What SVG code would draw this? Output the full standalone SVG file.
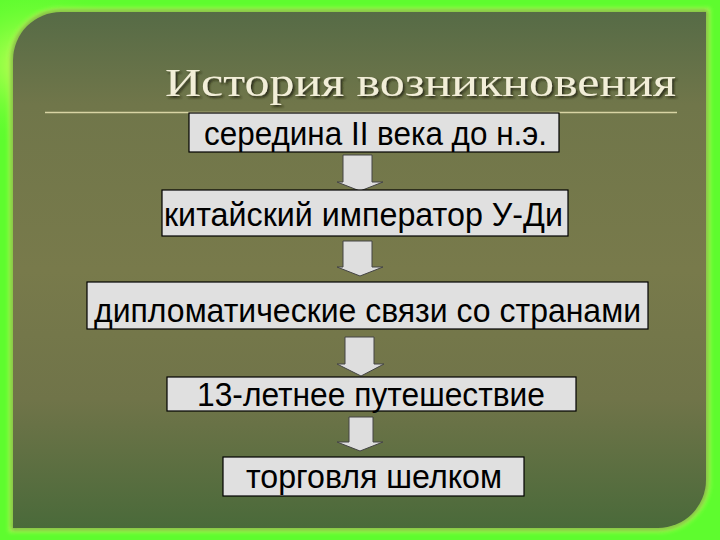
<svg xmlns="http://www.w3.org/2000/svg" width="720" height="540" viewBox="0 0 720 540">
  <defs>
    <linearGradient id="panel" x1="0" y1="0" x2="0" y2="1">
      <stop offset="0" stop-color="#566b46"/>
      <stop offset="0.18" stop-color="#70764a"/>
      <stop offset="0.5" stop-color="#787a4b"/>
      <stop offset="0.75" stop-color="#707449"/>
      <stop offset="1" stop-color="#4a6a3a"/>
    </linearGradient>
    <radialGradient id="glowTL" cx="0.05" cy="0.12" r="0.15">
      <stop offset="0" stop-color="#d8ff60"/>
      <stop offset="1" stop-color="#60ff30" stop-opacity="0"/>
    </radialGradient>
    <filter id="tshadow" x="-5%" y="-30%" width="110%" height="160%">
      <feDropShadow dx="2" dy="2" stdDeviation="1" flood-color="#20200f" flood-opacity="0.8"/>
    </filter>
    <filter id="blur2" x="-5%" y="-5%" width="110%" height="110%">
      <feGaussianBlur stdDeviation="2"/>
    </filter>
    <path id="panelShape" d="M13,60 A48,48 0 0 1 61,12 H706 V480 A48,48 0 0 1 658,528 H13 Z"/>
  </defs>
  <style>
    .box { fill: #e0e0e0; stroke: #000000; stroke-width: 1.2; }
    .lbl { font-family: "Liberation Sans", Arial, sans-serif; font-size: 33px; fill: #000000; }
    .arrow { fill: #dedede; stroke: #444444; stroke-width: 1; }
    .title { font-family: "Liberation Serif", "DejaVu Serif", serif; font-size: 40px; }
  </style>

  <!-- background -->
  <rect x="0" y="0" width="720" height="540" fill="#5efc2e"/>
  <rect x="0" y="0" width="720" height="540" fill="url(#glowTL)"/>
  <use href="#panelShape" fill="none" stroke="#b8ff5a" stroke-width="8" filter="url(#blur2)"/>
  <use href="#panelShape" fill="none" stroke="#2f4a22" stroke-width="3" opacity="0.6" filter="url(#blur2)"/>
  <use href="#panelShape" fill="url(#panel)"/>

  <!-- title -->
  <g id="title">
    <text class="title" x="165" y="96" fill="#f2eed8" filter="url(#tshadow)" textLength="511" lengthAdjust="spacingAndGlyphs">История возникновения</text>
    <line x1="45" y1="112.5" x2="677" y2="112.5" stroke="#d8d4a4" stroke-width="1.5"/>
  </g>

  <!-- connectors -->
  <g id="connectors">
    <path class="arrow" d="M343,155 H372 V182 H383 L360,191 L337,182 H343 Z"/>
    <path class="arrow" d="M343,241 H372 V267 H383 L360,276 L337,267 H343 Z"/>
    <path class="arrow" d="M345,337 H374 V364 H384 L361,376 L337,364 H345 Z"/>
    <path class="arrow" d="M349,417 H373 V442 H383 L360,451 L337,442 H349 Z"/>
  </g>

  <g id="node1">
    <rect class="box" x="189" y="113" width="370" height="39"/>
    <text class="lbl" x="204" y="145" textLength="343" lengthAdjust="spacingAndGlyphs">середина II века до н.э.</text>
  </g>
  <g id="node2">
    <rect class="box" x="162" y="190" width="406" height="46"/>
    <text class="lbl" x="164" y="226" textLength="399" lengthAdjust="spacingAndGlyphs">китайский император У-Ди</text>
  </g>
  <g id="node3">
    <rect class="box" x="87" y="282" width="561" height="47"/>
    <text class="lbl" x="94" y="322" textLength="547" lengthAdjust="spacingAndGlyphs">дипломатические связи со странами</text>
  </g>
  <g id="node4">
    <rect class="box" x="167" y="377" width="409" height="34"/>
    <text class="lbl" x="197" y="406" textLength="348" lengthAdjust="spacingAndGlyphs">13-летнее путешествие</text>
  </g>
  <g id="node5">
    <rect class="box" x="223" y="457" width="301" height="39"/>
    <text class="lbl" x="246" y="488" textLength="256" lengthAdjust="spacingAndGlyphs">торговля шелком</text>
  </g>
</svg>
